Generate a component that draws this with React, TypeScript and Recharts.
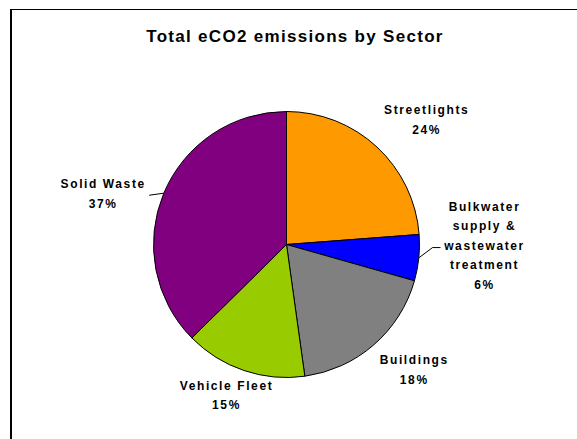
import { PieChart, Pie, Cell } from 'recharts';

const SECTORS = [
  'Streetlights',
  'Bulkwater\nsupply &\nwastewater\ntreatment',
  'Buildings',
  'Vehicle Fleet',
  'Solid Waste',
];
const SHARES = [23.8, 5.6, 18.4, 14.8, 37.4];
const COLORS = ['#FF9900', '#0000FF', '#808080', '#99CC00', '#800080'];

const data = SECTORS.map((name, i) => ({ name, value: SHARES[i] }));

const FONT = '"Liberation Sans", Arial, sans-serif';
const RAD = Math.PI / 180;
const LABEL_R = 57;      // distance past the rim where labels sit
const LINE_H = 19.5;

// hand nudges so labels land where Excel left them
const NUDGE: [number, number][] = [
  [11, 15], [9, -18], [3, -18], [1, -29], [-8, 23],
];
// leader lines, points relative to the label centre
const LEADERS: Record<number, [number, number][]> = {
  1: [[-52, 2], [-44, 2]],
  4: [[46, 1]],
};

function SectorLabel(props: any) {
  const { cx, cy, midAngle, outerRadius, index, name, percent } = props;
  const cos = Math.cos(-midAngle * RAD);
  const sin = Math.sin(-midAngle * RAD);
  const [nx, ny] = NUDGE[index];
  const x = cx + (outerRadius + LABEL_R) * cos + nx;
  const y = cy + (outerRadius + LABEL_R) * sin + ny;
  const lines = [...String(name).split('\n'), `${Math.round(percent * 100)}%`];
  const top = y - ((lines.length - 1) * LINE_H) / 2;
  const leader = LEADERS[index];
  const edge = [cx + outerRadius * cos, cy + outerRadius * sin];
  return (
    <g>
      {leader && (
        <polyline
          points={[edge, ...leader.map(([dx, dy]) => [x + dx, y + dy])]
            .map((p) => p.join(','))
            .join(' ')}
          fill="none"
          stroke="#000"
          strokeWidth={1}
        />
      )}
      <text
        x={x}
        y={top}
        textAnchor="middle"
        dominantBaseline="central"
        fontFamily={FONT}
        fontWeight="bold"
        fontSize={12}
        letterSpacing={1.6}
        fill="#000"
      >
        {lines.map((l, i) => (
          <tspan key={i} x={x} dy={i === 0 ? 0 : LINE_H}>
            {l}
          </tspan>
        ))}
      </text>
    </g>
  );
}

export default function App() {
  return (
    <div
      style={{
        position: 'fixed', left: 0, top: 0, width: 577, height: 439,
        overflow: 'hidden', background: '#fff',
      }}
    >
      <div
        style={{
          position: 'absolute', left: 10, top: 9, width: 700, height: 600,
          borderLeft: '2px solid #000', borderTop: '1px solid #000',
        }}
      />
      <div
        style={{
          position: 'absolute', left: 0, top: 27, width: 590, textAlign: 'center',
          fontFamily: FONT, fontWeight: 'bold', fontSize: 17, letterSpacing: 1.3,
        }}
      >
        Total eCO2 emissions by Sector
      </div>
      <PieChart width={577} height={439} style={{ position: 'absolute', left: 0, top: 0 }}>
        <Pie
          data={data}
          dataKey="value"
          nameKey="name"
          cx={281.5}
          cy={239.5}
          outerRadius={133}
          startAngle={90}
          endAngle={-270}
          stroke="#000"
          strokeWidth={1}
          label={SectorLabel}
          labelLine={false}
          isAnimationActive={false}
        >
          {data.map((d, i) => (
            <Cell key={d.name} fill={COLORS[i]} />
          ))}
        </Pie>
      </PieChart>
    </div>
  );
}
